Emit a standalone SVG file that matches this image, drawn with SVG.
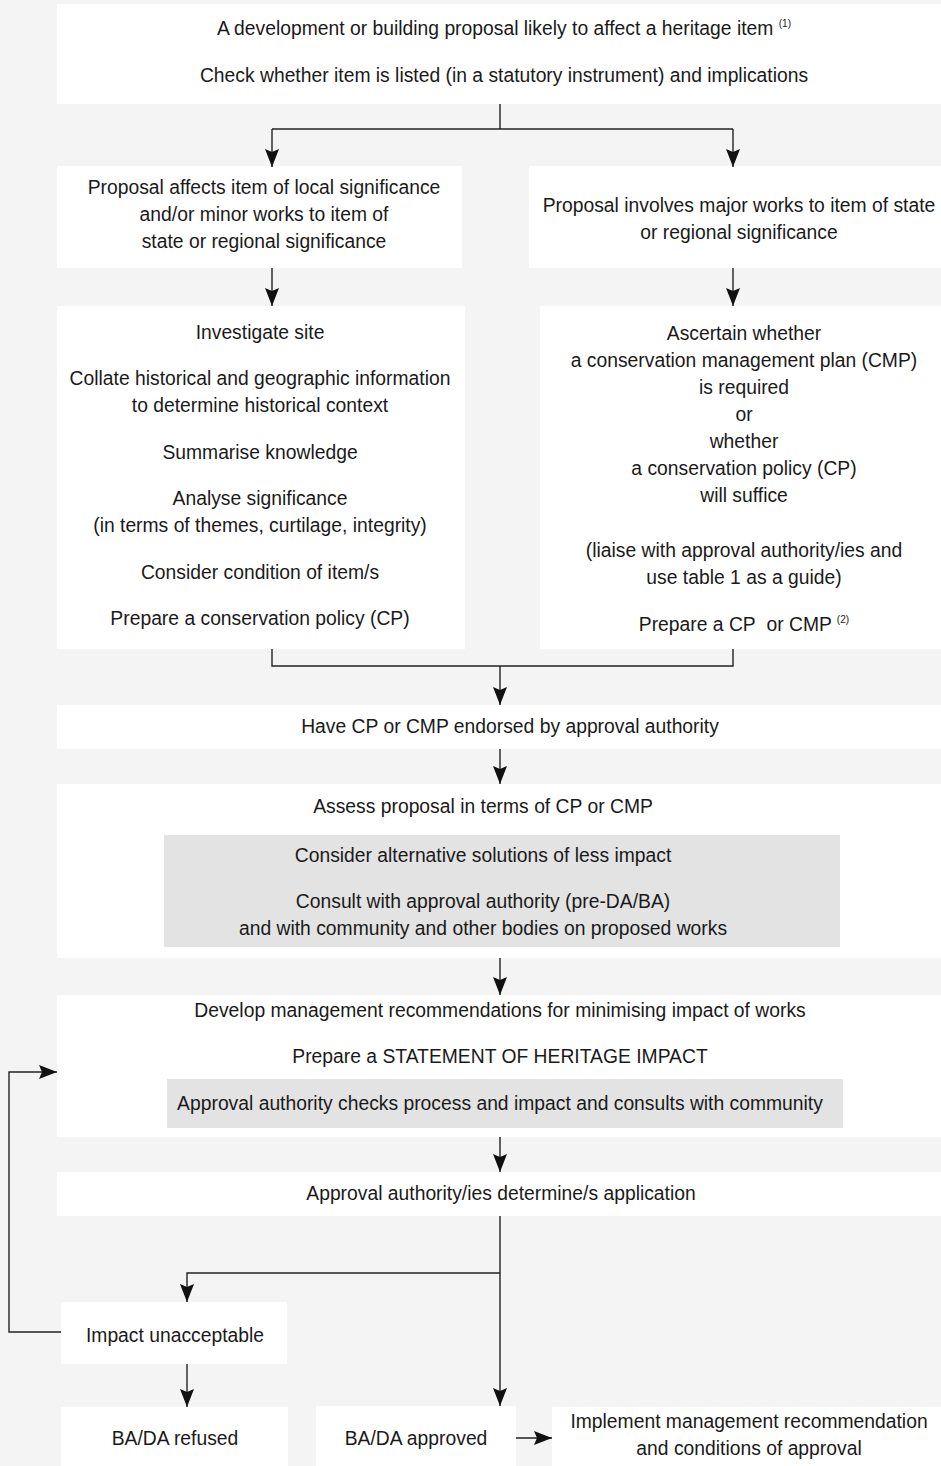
<svg xmlns="http://www.w3.org/2000/svg" width="941" height="1466" viewBox="0 0 941 1466">
<defs>
<style>
.box{fill:#ffffff}
.inner{fill:#e3e3e3}
.t{font-family:"Liberation Sans",Arial,sans-serif;font-size:21px;fill:#1a1a1a;text-anchor:middle}
.sup{font-size:11px}
.c{fill:none;stroke:#222;stroke-width:1.4}
.a{marker-end:url(#arr)}
</style>
<marker id="arr" markerUnits="userSpaceOnUse" markerWidth="20" markerHeight="16" viewBox="0 -8 20 16" refX="18" refY="0" orient="auto">
<path d="M0,-7 L18,0 L0,7 L3,0 Z" fill="#111"/>
</marker>
</defs>
<rect x="0" y="0" width="941" height="1466" fill="#f4f4f4"/>

<g id="n-start">
<rect class="box" x="57" y="4" width="884" height="100"/>
<text class="t" transform="translate(504 0) scale(0.92 1)"><tspan x="0" y="35">A development or building proposal likely to affect a heritage item <tspan class="sup" dy="-8">(1)</tspan></tspan><tspan x="0" y="82">Check whether item is listed (in a statutory instrument) and implications</tspan></text>
</g>

<g id="n-local">
<rect class="box" x="57" y="166" width="405" height="102"/>
<text class="t" transform="translate(264 0) scale(0.92 1)"><tspan x="0" y="194">Proposal affects item of local significance</tspan><tspan x="0" y="221">and/or minor works to item of</tspan><tspan x="0" y="248">state or regional significance</tspan></text>
</g>

<g id="n-major">
<rect class="box" x="529" y="166" width="412" height="102"/>
<text class="t" transform="translate(739 0) scale(0.92 1)"><tspan x="0" y="212">Proposal involves major works to item of state</tspan><tspan x="0" y="239">or regional significance</tspan></text>
</g>

<g id="n-investigate">
<rect class="box" x="57" y="306" width="408" height="343"/>
<text class="t" transform="translate(260 0) scale(0.92 1)"><tspan x="0" y="339">Investigate site</tspan><tspan x="0" y="385">Collate historical and geographic information</tspan><tspan x="0" y="412">to determine historical context</tspan><tspan x="0" y="459">Summarise knowledge</tspan><tspan x="0" y="505">Analyse significance</tspan><tspan x="0" y="532">(in terms of themes, curtilage, integrity)</tspan><tspan x="0" y="579">Consider condition of item/s</tspan><tspan x="0" y="625">Prepare a conservation policy (CP)</tspan></text>
</g>

<g id="n-ascertain">
<rect class="box" x="540" y="306" width="401" height="343"/>
<text class="t" transform="translate(744 0) scale(0.92 1)"><tspan x="0" y="340">Ascertain whether</tspan><tspan x="0" y="367">a conservation management plan (CMP)</tspan><tspan x="0" y="394">is required</tspan><tspan x="0" y="421">or</tspan><tspan x="0" y="448">whether</tspan><tspan x="0" y="475">a conservation policy (CP)</tspan><tspan x="0" y="502">will suffice</tspan><tspan x="0" y="557">(liaise with approval authority/ies and</tspan><tspan x="0" y="584">use table 1 as a guide)</tspan><tspan x="0" y="631">Prepare a CP&#160; or CMP <tspan class="sup" dy="-8">(2)</tspan></tspan></text>
</g>

<g id="n-endorse">
<rect class="box" x="57" y="705" width="884" height="44"/>
<text class="t" transform="translate(510 0) scale(0.92 1)"><tspan x="0" y="733">Have CP or CMP endorsed by approval authority</tspan></text>
</g>

<g id="n-assess">
<rect class="box" x="57" y="784" width="884" height="174"/>
<text class="t" transform="translate(483 0) scale(0.92 1)"><tspan x="0" y="813">Assess proposal in terms of CP or CMP</tspan></text>
<rect class="inner" x="164" y="835" width="676" height="112"/>
<text class="t" transform="translate(483 0) scale(0.92 1)"><tspan x="0" y="862">Consider alternative solutions of less impact</tspan><tspan x="0" y="908">Consult with approval authority (pre-DA/BA)</tspan><tspan x="0" y="935">and with community and other bodies on proposed works</tspan></text>
</g>

<g id="n-develop">
<rect class="box" x="57" y="995" width="884" height="142"/>
<text class="t" transform="translate(500 0) scale(0.92 1)"><tspan x="0" y="1017">Develop management recommendations for minimising impact of works</tspan><tspan x="0" y="1063">Prepare a STATEMENT OF HERITAGE IMPACT</tspan></text>
<rect class="inner" x="167" y="1079" width="676" height="49"/>
<text class="t" transform="translate(500 0) scale(0.92 1)"><tspan x="0" y="1110">Approval authority checks process and impact and consults with community</tspan></text>
</g>

<g id="n-determine">
<rect class="box" x="57" y="1172" width="884" height="44"/>
<text class="t" transform="translate(501 0) scale(0.92 1)"><tspan x="0" y="1200">Approval authority/ies determine/s application</tspan></text>
</g>

<g id="n-unacceptable">
<rect class="box" x="61" y="1302" width="226" height="62"/>
<text class="t" transform="translate(175 0) scale(0.92 1)"><tspan x="0" y="1342">Impact unacceptable</tspan></text>
</g>

<g id="n-refused">
<rect class="box" x="61" y="1407" width="227" height="59"/>
<text class="t" transform="translate(175 0) scale(0.92 1)"><tspan x="0" y="1445">BA/DA refused</tspan></text>
</g>

<g id="n-approved">
<rect class="box" x="316" y="1406" width="200" height="60"/>
<text class="t" transform="translate(416 0) scale(0.92 1)"><tspan x="0" y="1445">BA/DA approved</tspan></text>
</g>

<g id="n-implement">
<rect class="box" x="552" y="1407" width="389" height="59"/>
<text class="t" transform="translate(749 0) scale(0.92 1)"><tspan x="0" y="1428">Implement management recommendation</tspan><tspan x="0" y="1455">and conditions of approval</tspan></text>
</g>

<g id="connectors">
<path class="c" d="M500,104 V129 M272,129 H733"/>
<path class="c a" d="M272,129 V167"/>
<path class="c a" d="M733,129 V167"/>
<path class="c a" d="M272,268 V306"/>
<path class="c a" d="M733,268 V306"/>
<path class="c" d="M272,649 V666 H733 V649"/>
<path class="c a" d="M500,666 V705"/>
<path class="c a" d="M500,749 V784"/>
<path class="c a" d="M500,958 V995"/>
<path class="c a" d="M500,1137 V1172"/>
<path class="c a" d="M500,1216 V1406"/>
<path class="c a" d="M500,1273 H187 V1302"/>
<path class="c a" d="M187,1364 V1407"/>
<path class="c a" d="M61,1332 H9 V1072 H57"/>
<path class="c a" d="M516,1438 H552"/>
</g>
</svg>
